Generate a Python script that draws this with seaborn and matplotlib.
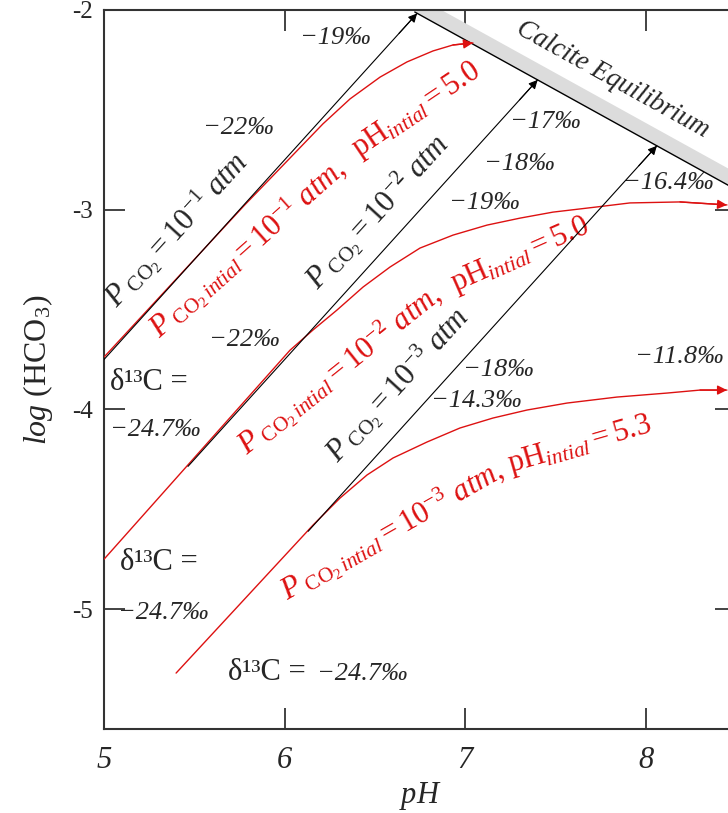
import numpy as np
import pandas as pd
import seaborn as sns
import matplotlib.pyplot as plt

# 曲线数据 (pH, log HCO3)
red1_ph = [5.000, 5.780, 5.935, 6.068, 6.212, 6.362, 6.528, 6.677, 6.821, 6.932, 7.042]
red1_log = [-3.738, -2.975, -2.830, -2.705, -2.570, -2.445, -2.336, -2.260, -2.205, -2.175, -2.165]

red2_ph = [5.000, 6.030, 6.157, 6.290, 6.434, 6.583, 6.749, 6.932, 7.120, 7.303, 7.485,
           7.729, 7.911, 8.188, 8.448]
red2_log = [-4.750, -3.703, -3.602, -3.502, -3.387, -3.287, -3.192, -3.127, -3.077, -3.042, -3.012,
            -2.986, -2.966, -2.961, -2.976]

red3_ph = [5.399, 6.157, 6.306, 6.456, 6.600, 6.788, 6.970, 7.153, 7.341, 7.563, 7.839,
           8.116, 8.299, 8.448]
red3_log = [-5.320, -4.579, -4.444, -4.328, -4.243, -4.163, -4.093, -4.043, -4.003, -3.968, -3.938,
            -3.918, -3.903, -3.903]

# P_CO2 恒定线 (起点, 终点)
black1_ph = [5.000, 6.733]
black1_log = [-3.750, -2.017]
black2_ph = [5.465, 7.400]
black2_log = [-4.285, -2.350]
black3_ph = [6.130, 8.060]
black3_log = [-4.610, -2.680]

# 方解石平衡线
calcite_ph = [6.720, 8.500]
calcite_log = [-2.010, -2.900]

x_ticks = [5, 6, 7, 8]
x_ticklabels = ['5', '6', '7', '8']
y_ticks = [-5, -4, -3, -2]
y_ticklabels = ['-5', '-4', '-3', '-2']

sns.set_style('ticks')
plt.rcParams['font.family'] = ['Liberation Serif', 'DejaVu Serif']
plt.rcParams['mathtext.fontset'] = 'custom'
plt.rcParams['mathtext.rm'] = 'Liberation Serif'
plt.rcParams['mathtext.it'] = 'Liberation Serif:italic'
plt.rcParams['mathtext.bf'] = 'Liberation Serif:bold'

RED = '#dd1111'

fig = plt.figure(figsize=(7.28, 8.13), dpi=100)
ax = fig.add_axes([0.14286, 0.10332, 0.8686, 0.88438])

# 灰色带 + 平衡线
calc = pd.DataFrame({'ph': calcite_ph, 'log': calcite_log})
ax.fill_between(calc['ph'], calc['log'], calc['log'] + 0.085, color='#dcdcdc', lw=0, zorder=1)
sns.lineplot(data=calc, x='ph', y='log', color='black', lw=1.0, ax=ax, zorder=3)

for xs, ys in [(red1_ph, red1_log), (red2_ph, red2_log), (red3_ph, red3_log)]:
    sns.lineplot(x=xs, y=ys, color=RED, lw=1.0, sort=False, estimator=None, ax=ax, zorder=3)
    ax.annotate('', xy=(xs[-1], ys[-1]), xytext=(xs[-2], ys[-2]),
                arrowprops=dict(arrowstyle='-|>', color=RED, lw=1.0,
                                mutation_scale=14, shrinkA=0, shrinkB=0), zorder=4)

for xs, ys in [(black1_ph, black1_log), (black2_ph, black2_log), (black3_ph, black3_log)]:
    sns.lineplot(x=xs, y=ys, color='black', lw=0.8, sort=False, estimator=None, ax=ax, zorder=3.5)
    ax.annotate('', xy=(xs[-1], ys[-1]), xytext=(xs[-1] - 0.1, ys[-1] - 0.1),
                arrowprops=dict(arrowstyle='-|>', color='black', lw=0.8,
                                mutation_scale=13, shrinkA=0, shrinkB=0), zorder=4)

# 标注文字
fs = 19
it = dict(fontsize=fs, style='italic', ha='center', va='center')
for x, y, s in [(6.278, -2.140, '−19‰'), (5.742, -2.591, '−22‰'), (7.441, -2.561, '−17‰'),
                (7.297, -2.771, '−18‰'), (7.103, -2.966, '−19‰'), (8.121, -2.866, '−16.4‰'),
                (5.775, -3.652, '−22‰'), (7.180, -3.803, '−18‰'), (7.059, -3.958, '−14.3‰'),
                (8.182, -3.738, '−11.8‰')]:
    ax.text(x, y, s, **it)

ax.text(5.033, -3.863, 'δ¹³C =', fontsize=22, ha='left', va='center')
ax.text(5.033, -4.103, '−24.7‰', fontsize=fs, style='italic', ha='left', va='center')
ax.text(5.089, -4.764, 'δ¹³C =', fontsize=22, ha='left', va='center')
ax.text(5.077, -5.020, '−24.7‰', fontsize=fs, style='italic', ha='left', va='center')
ax.text(5.686, -5.315, 'δ¹³C =', fontsize=22, ha='left', va='center')
ax.text(6.18, -5.325, '−24.7‰', fontsize=fs, style='italic', ha='left', va='center')

ax.text(7.817, -2.350, 'Calcite Equilibrium', fontsize=19.5, style='italic',
        rotation=-29, rotation_mode='anchor', ha='center', va='center')

rot = dict(rotation_mode='anchor', ha='center', va='center', fontsize=22)
ax.text(5.404, -3.102, r'$P_{\ \mathrm{CO_2}} = 10^{-1}\ atm$', rotation=47.7, **rot)
ax.text(6.516, -3.012, r'$P_{\ \mathrm{CO_2}} = 10^{-2}\ atm$', rotation=47.7, **rot)
ax.text(6.627, -3.878, r'$P_{\ \mathrm{CO_2}} = 10^{-3}\ atm$', rotation=47.7, **rot)

# 红色标注沿曲线分两段
for (x1, y1, r1, p), (x2, y2, r2, ph0) in [
        ((5.797, -3.197, 41.7, '1'), (6.732, -2.501, 33.9, '5.0')),
        ((6.306, -3.803, 38.7, '2'), (7.302, -3.227, 23.8, '5.0')),
        ((6.594, -4.609, 29.7, '3'), (7.634, -4.178, 16.0, '5.3'))]:
    ax.text(x1, y1, r'$P_{\ \mathrm{CO_2}\,intial} = 10^{-%s}\ atm,$' % p,
            rotation=r1, color=RED, **rot)
    ax.text(x2, y2, r'$\mathrm{pH}_{intial} = %s$' % ph0,
            rotation=r2, color=RED, **rot)

# 坐标轴
ax.set_xlim(5, 8.5)
ax.set_ylim(-5.6, -2)
ax.set_xticks(x_ticks)
ax.set_xticklabels(x_ticklabels, fontsize=22, style='italic')
ax.set_yticks(y_ticks)
ax.set_yticklabels(y_ticklabels, fontsize=18)
ax.tick_params(direction='in', length=15, width=1.2, top=True, right=True, color='#222222')
ax.tick_params(axis='x', pad=12)
ax.tick_params(axis='y', pad=8)
for sp in ax.spines.values():
    sp.set_linewidth(1.5)
    sp.set_color('#333333')
ax.set_xlabel(r'$pH$', fontsize=22, labelpad=4)
ax.set_ylabel(r'$log\ (\mathrm{HCO_3})$', fontsize=23, labelpad=12)

fig.savefig('out.png', dpi=100)
